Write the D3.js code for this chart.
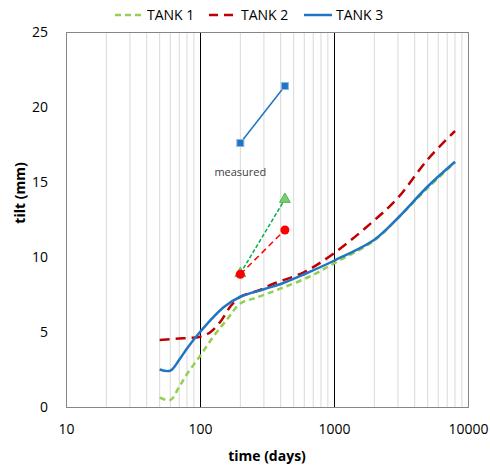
<!DOCTYPE html>
<html>
<head>
<meta charset="utf-8">
<script src="https://cdn.jsdelivr.net/npm/d3@7"></script>
<style>
  html, body { margin: 0; padding: 0; background: #fff; }
  svg { display: block; font-family: "Open Sans", "Liberation Sans", sans-serif; }
</style>
</head>
<body>
<svg id="chart" width="490" height="466"></svg>
<script>
// Time axis (days) and tilt values per tank
const tank1Days = [50, 60, 70, 80, 100, 126, 158, 200, 265, 400, 660, 1000, 2000, 3000, 5000, 8000];
const tank1Tilt = [0.62, 0.47, 1.35, 2.2, 3.4, 4.7, 5.8, 6.9, 7.3, 7.9, 8.7, 9.58, 11.1, 12.6, 14.6, 16.3];

const tank2Days = [50, 75, 100, 120, 145, 170, 200, 270, 350, 600, 1000, 2000, 3000, 5000, 8000];
const tank2Tilt = [4.47, 4.58, 4.68, 5.0, 5.8, 6.75, 7.35, 7.75, 8.2, 9.0, 10.25, 12.45, 13.95, 16.5, 18.4];

const tank3Days = [50, 60, 70, 80, 100, 150, 200, 300, 400, 600, 1000, 2000, 3000, 5000, 8000];
const tank3Tilt = [2.5, 2.42, 3.15, 3.9, 5.0, 6.65, 7.35, 7.85, 8.2, 8.85, 9.75, 11.15, 12.6, 14.7, 16.35];

// Measured values
const measuredDays = [200, 430];
const measured1 = [8.9, 13.85];
const measured2 = [8.85, 11.8];
const measured3 = [17.6, 21.4];

const xTicks = [10, 100, 1000, 10000];
const yTicks = [0, 5, 10, 15, 20, 25];
const seriesNames = ["TANK 1", "TANK 2", "TANK 3"];

const svg = d3.select("#chart");
const plot = { left: 66, right: 468, top: 32, bottom: 407 };

const x = d3.scaleLog().domain([10, 10000]).range([plot.left, plot.right]);
const y = d3.scaleLinear().domain([0, 25]).range([plot.bottom, plot.top]);

// minor vertical gridlines
const minor = [];
[10, 100, 1000].forEach(dec => { for (let k = 2; k <= 9; k++) minor.push(dec * k); });
svg.append("g").selectAll("line").data(minor).join("line")
  .attr("x1", d => x(d)).attr("x2", d => x(d))
  .attr("y1", plot.top).attr("y2", plot.bottom)
  .attr("stroke", "#d9d9d9").attr("stroke-width", 1);

// major vertical gridlines
svg.append("g").selectAll("line").data([100, 1000]).join("line")
  .attr("x1", d => Math.round(x(d)) + 0.5).attr("x2", d => Math.round(x(d)) + 0.5)
  .attr("y1", plot.top).attr("y2", plot.bottom)
  .attr("stroke", "#000").attr("stroke-width", 1);

// plot frame
svg.append("rect")
  .attr("x", plot.left + 0.5).attr("y", plot.top + 0.5)
  .attr("width", plot.right - plot.left).attr("height", plot.bottom - plot.top)
  .attr("fill", "none").attr("stroke", "#868686").attr("stroke-width", 1);

// axes (labels only)
const xAxis = d3.axisBottom(x).tickValues(xTicks).tickFormat(d3.format("d")).tickSize(0).tickPadding(17);
const gx = svg.append("g").attr("transform", `translate(0,${plot.bottom})`).call(xAxis);
gx.select(".domain").remove();
gx.selectAll("text").attr("font-size", 14).attr("fill", "#000").attr("font-family", "Open Sans, sans-serif");

const yAxis = d3.axisLeft(y).tickValues(yTicks).tickSize(0).tickPadding(18);
const gy = svg.append("g").attr("transform", `translate(${plot.left},0)`).call(yAxis);
gy.select(".domain").remove();
gy.selectAll("text").attr("font-size", 14).attr("fill", "#000").attr("font-family", "Open Sans, sans-serif");

// axis titles
svg.append("text").attr("x", (plot.left + plot.right) / 2).attr("y", 461)
  .attr("text-anchor", "middle").attr("font-size", 14).attr("font-weight", "bold")
  .text("time (days)");
svg.append("text").attr("transform", "translate(25,193) rotate(-90)")
  .attr("text-anchor", "middle").attr("font-size", 14).attr("font-weight", "bold")
  .text("tilt (mm)");

// curves
const line = d3.line().x(d => x(d[0])).y(d => y(d[1])).curve(d3.curveCatmullRom.alpha(0.5));
const styles = [
  { color: "#92d050", dash: "6,4", width: 2.5 },
  { color: "#c00000", dash: "10,6", width: 2.5 },
  { color: "#1f74c4", dash: null, width: 2.5 }
];
const curves = [
  d3.zip(tank1Days, tank1Tilt),
  d3.zip(tank2Days, tank2Tilt),
  d3.zip(tank3Days, tank3Tilt)
];
curves.forEach((pts, i) => {
  svg.append("path").datum(pts).attr("d", line)
    .attr("fill", "none").attr("stroke", styles[i].color)
    .attr("stroke-width", styles[i].width)
    .attr("stroke-dasharray", styles[i].dash);
});

// measured data: connecting lines
const straight = d3.line().x(d => x(d[0])).y(d => y(d[1]));
svg.append("path").datum(d3.zip(measuredDays, measured1)).attr("d", straight)
  .attr("fill", "none").attr("stroke", "#00b050").attr("stroke-width", 1.5).attr("stroke-dasharray", "4,2");
svg.append("path").datum(d3.zip(measuredDays, measured2)).attr("d", straight)
  .attr("fill", "none").attr("stroke", "#ff0000").attr("stroke-width", 1.5).attr("stroke-dasharray", "6,4");
svg.append("path").datum(d3.zip(measuredDays, measured3)).attr("d", straight)
  .attr("fill", "none").attr("stroke", "#1f74c4").attr("stroke-width", 1.5);

// markers
const tri = d3.symbol().type(d3.symbolTriangle).size(50);
svg.append("g").selectAll("path").data(d3.zip(measuredDays, measured1)).join("path")
  .attr("d", tri).attr("transform", d => `translate(${x(d[0])},${y(d[1])})`)
  .attr("fill", "#7ccd72").attr("stroke", "#4cb84a").attr("stroke-width", 1);
svg.append("g").selectAll("circle").data(d3.zip(measuredDays, measured2)).join("circle")
  .attr("cx", d => x(d[0])).attr("cy", d => y(d[1])).attr("r", 4.5)
  .attr("fill", "#ff0000");
svg.append("g").selectAll("rect").data(d3.zip(measuredDays, measured3)).join("rect")
  .attr("x", d => x(d[0]) - 3.5).attr("y", d => y(d[1]) - 3.5)
  .attr("width", 7).attr("height", 7)
  .attr("fill", "#1f74c4").attr("stroke", "#8fb4dc").attr("stroke-width", 1);

svg.append("text").attr("x", x(200)).attr("y", 176)
  .attr("text-anchor", "middle").attr("font-size", 11).attr("fill", "#404040")
  .text("measured");

// legend
const legendX = [115, 209, 304];
const lg = svg.append("g");
seriesNames.forEach((name, i) => {
  lg.append("line").attr("x1", legendX[i]).attr("x2", legendX[i] + 28)
    .attr("y1", 15).attr("y2", 15)
    .attr("stroke", styles[i].color).attr("stroke-width", 2.5)
    .attr("stroke-dasharray", i === 0 ? "6,4" : i === 1 ? "9,6" : null);
  lg.append("text").attr("x", legendX[i] + 32).attr("y", 20)
    .attr("font-size", 14).attr("fill", "#000").text(name);
});
</script>
</body>
</html>
